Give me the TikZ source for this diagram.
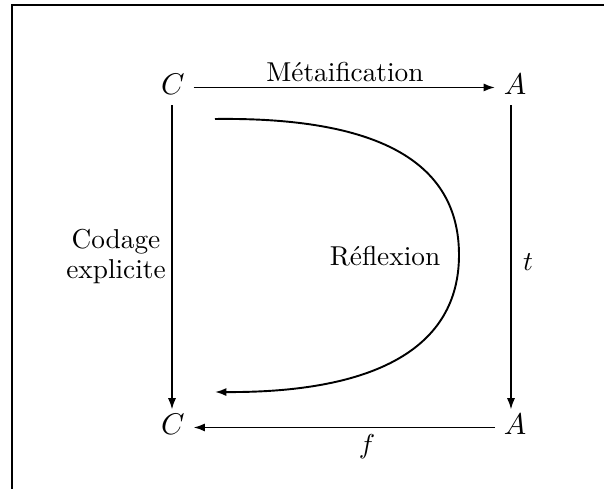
\documentclass[tikz,border=0pt]{standalone}
\usetikzlibrary{arrows.meta}
\begin{document}
\begin{tikzpicture}[x=0.366pt,y=-0.366pt,
  obj/.style={inner xsep=3pt,inner ysep=1.5pt,text height=7.6pt,text depth=2.1pt,
    anchor=base,font=\fontsize{11}{13}\selectfont},
  lbl/.style={inner sep=0pt,align=center},
  arr/.style={line width=0.7pt,-{Latex[length=4.2pt,width=3pt]}},
  frameline/.style={line width=0.9pt}]
\useasboundingbox (0,0) rectangle (604,489);
\draw[frameline] (12,489) -- (12,5) -- (604,5);
\node[obj] (C1) at (173,95) {$C$};
\node[obj] (A1) at (515,95) {$A$};
\node[obj] (C2) at (173,435) {$C$};
\node[obj] (A2) at (515,435) {$A$};
\draw[arr] (C1) -- (A1);
\draw[arr] (A1.south -| 511,0) -- (A2.north -| 511,0);
\draw[arr] (C1.south -| 172,0) -- (C2.north -| 172,0);
\draw[arr] (A2) -- (C2);
\node[lbl] (lm) at (345,72) {Métaification};
\node[lbl] (lc) at (116,257) {Codage\\[-1pt]explicite};
\node[lbl] (lr) at (385,256) {Réflexion};
\node[lbl] (lt) at (528,262) {$t$};
\node[lbl] (lf) at (367,447) {$f$};
\coordinate (s) at (215,119);
\coordinate (m) at (459,255);
\coordinate (e) at (215,392);
\draw[arr] (s) .. controls (375,117) and (459,160) .. (m)
  .. controls (459,348) and (375,393) .. (e);
\end{tikzpicture}
\end{document}
